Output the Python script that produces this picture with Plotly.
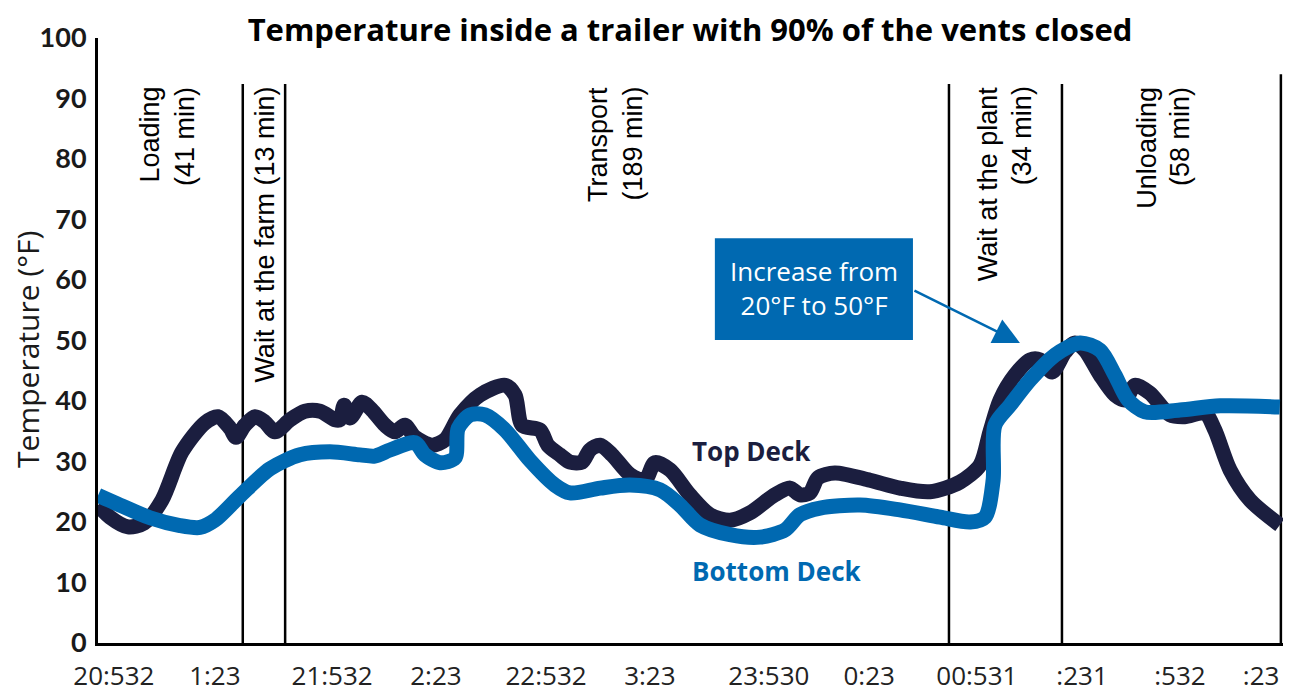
import plotly.graph_objects as go

# ---- data (minutes since start of loading, temperature in °F) ----
top_min = [0, 3.4, 8.5, 13.0, 18.1, 23.8, 30.3, 34.0, 37.4, 39.1, 41.6, 44.5, 47.3, 50.1,
           54.4, 58.6, 62.9, 67.1, 68.5, 69.7, 71.4, 74.8, 77.6, 81.3, 84.1, 86.9, 89.8,
           94.6, 98.3, 102.5, 108.2, 115.3, 118.1, 120.1, 125.2, 127.4, 130.8, 133.7,
           137.1, 139.3, 142.2, 145.6, 150.7, 154.9, 157.7, 162.0, 167.6, 173.3, 179.0,
           184.6, 191.7, 196.0, 198.8, 201.6, 203.9, 208.7, 218.6, 227.1, 235.6, 244.1,
           249.8, 252.6, 255.5, 259.7, 264.0, 266.8, 270.2, 273.9, 276.7, 279.5, 283.8,
           288.0, 290.9, 293.7, 297.9, 303.6, 307.8, 313.5, 316.3, 320.6, 326.3, 334.7]
top_temp = [22.8, 20.8, 19.2, 19.8, 23.6, 31.6, 36.4, 37.4, 35.5, 34.0, 36.0, 37.4, 36.5, 34.9,
            36.9, 38.3, 38.3, 36.9, 36.9, 39.3, 37.2, 39.8, 38.5, 36.0, 34.9, 36.0, 34.0,
            32.7, 33.6, 37.7, 41.0, 42.6, 41.0, 36.0, 35.2, 32.7, 31.1, 29.9,
            29.9, 31.9, 32.7, 31.1, 27.8, 26.9, 29.8, 28.6, 24.5, 21.2, 20.3,
            21.5, 24.5, 25.6, 24.5, 24.8, 27.3, 28.1, 26.9, 25.6, 25.0, 26.6,
            29.4, 34.9, 40.2, 44.3, 46.8, 46.8, 44.8, 48.1, 49.6, 48.4, 44.3,
            41.0, 40.2, 42.6, 41.3, 37.7, 37.4, 38.0, 35.2, 28.6, 23.6, 19.5]

bottom_min = [0, 6.2, 14.7, 23.2, 28.9, 33.1, 40.2, 48.7, 57.2, 65.7, 74.2, 78.4, 82.7, 89.8,
              92.6, 96.9, 101.1, 102.0, 105.4, 109.6, 115.3, 122.3, 129.4, 133.7, 142.2,
              150.7, 159.2, 164.8, 170.5, 179.0, 187.5, 194.6, 198.8, 204.5, 215.8, 227.1,
              238.5, 247.0, 251.2, 253.5, 254.0, 258.3, 264.0, 271.0, 278.1, 283.8, 288.0,
              291.7, 296.5, 306.4, 317.8, 334.7]
bottom_temp = [24.4, 22.8, 20.7, 19.4, 19.1, 20.3, 24.3, 28.8, 31.1, 31.6, 31.1, 30.9, 31.9, 33.1,
               31.1, 29.8, 30.6, 35.5, 37.7, 37.7, 35.2, 30.2, 26.1, 24.8, 25.6,
               26.1, 25.3, 22.8, 19.5, 17.9, 17.5, 18.7, 21.2, 22.3, 22.8, 22.0,
               20.8, 20.0, 20.8, 26.9, 36.0, 39.3, 43.5, 47.6, 49.6, 48.4, 44.3,
               40.2, 38.2, 38.5, 39.2, 39.0]

phase_bounds = [41, 53, 241, 273, 335]

tick_vals = [4.5, 33.1, 66.3, 95.7, 126.9, 156.3, 190.0, 218.4, 248.9, 278.7, 306.4, 329.4]
tick_text = ["20:532", "1:23", "21:532", "2:23", "22:532", "3:23", "23:530", "0:23",
             "00:531", ":231", ":532", ":23"]

phase_labels = [("Loading", 14.7), ("(41 min)", 24.6), ("Wait at the farm (13 min)", 47.3),
                ("Transport", 141.6), ("(189 min)", 151.5), ("Wait at the plant", 252.1),
                ("(34 min)", 261.7), ("Unloading", 297.1), ("(58 min)", 306.4)]

NAVY = "#1b1e3f"
BLUE = "#0069b1"

fig = go.Figure()
fig.add_trace(go.Scatter(x=top_min, y=top_temp, mode="lines", name="Top Deck",
                         line=dict(color=NAVY, width=15, shape="spline", smoothing=0.8),
                         hoverinfo="skip"))
fig.add_trace(go.Scatter(x=bottom_min, y=bottom_temp, mode="lines", name="Bottom Deck",
                         line=dict(color=BLUE, width=15, shape="spline", smoothing=0.8),
                         hoverinfo="skip"))

shapes = []
for i, b in enumerate(phase_bounds):
    shapes.append(dict(type="line", xref="x", yref="y", x0=b, x1=b, y0=0,
                       y1=94.0 if i == len(phase_bounds) - 1 else 92.4,
                       line=dict(color="black", width=2.5), layer="below"))
# callout box
shapes.append(dict(type="rect", xref="x", yref="y", x0=174.7, x1=230.8, y0=50.1, y1=66.9,
                   fillcolor=BLUE, line=dict(width=0), layer="above"))

annotations = []
for text, xm in phase_labels:
    annotations.append(dict(x=xm, y=92.3, xref="x", yref="y", text=text, textangle=-90,
                            showarrow=False, xanchor="center", yanchor="top",
                            font=dict(family="Liberation Sans, Arial", size=27, color="black")))

annotations.append(dict(x=202.75, y=58.6, xref="x", yref="y",
                        text="Increase from<br>20°F to 50°F", showarrow=False,
                        font=dict(family="Open Sans", size=26, color="white"),
                        xanchor="center", yanchor="middle", align="center"))
annotations.append(dict(x=261.1, y=49.6, xref="x", yref="y", text="", showarrow=True,
                        ax=-107, ay=-53, arrowcolor=BLUE, arrowwidth=2.5, arrowhead=2,
                        arrowsize=2.1, standoff=0))
annotations.append(dict(x=167.7, y=31.7, xref="x", yref="y", text="<b>Top Deck</b>",
                        showarrow=False, xanchor="left", yanchor="middle",
                        font=dict(family="Open Sans", size=26, color=NAVY)))
annotations.append(dict(x=167.7, y=11.9, xref="x", yref="y", text="<b>Bottom Deck</b>",
                        showarrow=False, xanchor="left", yanchor="middle",
                        font=dict(family="Open Sans", size=26, color=BLUE)))
annotations.append(dict(x=-0.0591, y=48.6, xref="paper", yref="y", text="Temperature (°F)",
                        textangle=-90, showarrow=False, xanchor="center", yanchor="middle",
                        font=dict(family="Open Sans", size=30, color="#1a1a1a")))

# The page body has an 8px margin, so the figure is sized 8px smaller than the window.
fig.update_layout(
    width=1283, height=685,
    margin=dict(l=90, r=8, t=30, b=50),
    paper_bgcolor="white", plot_bgcolor="white",
    showlegend=False,
    title=dict(text="<b>Temperature inside a trailer with 90% of the vents closed</b>",
               x=0.5316, xanchor="center", y=0.968, yanchor="middle",
               font=dict(family="Open Sans", size=31, color="black")),
    xaxis=dict(range=[0, 335.6], showgrid=False, zeroline=False, showline=True,
               linecolor="black", linewidth=3, tickmode="array", tickvals=tick_vals,
               ticktext=tick_text, ticks="", ticklabelstandoff=8, automargin=False,
               tickfont=dict(family="Open Sans", size=26, color="#222222")),
    yaxis=dict(range=[0, 100], dtick=10, showgrid=False, zeroline=False, showline=True,
               linecolor="black", linewidth=3, ticks="", ticklabelstandoff=3, automargin=False,
               tickfont=dict(family="Lato", size=27, color="#1a1a1a", weight="bold")),
    shapes=shapes, annotations=annotations,
)

fig.write_html("out.html")
